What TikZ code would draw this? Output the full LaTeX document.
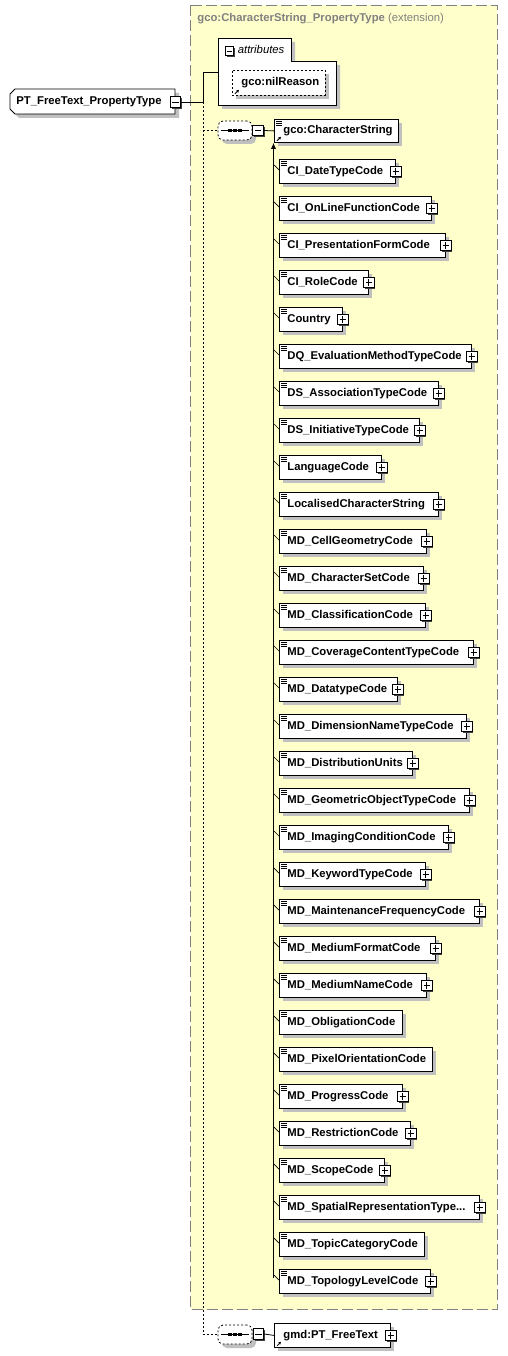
\documentclass[tikz,border=0pt]{standalone}
\usepackage{fontspec}
\setmainfont{Liberation Sans}
\usetikzlibrary{shadows,calc,arrows.meta}
\definecolor{ybg}{RGB}{255,255,204}
\definecolor{shd}{RGB}{192,192,192}
\definecolor{frm}{RGB}{128,128,128}
\newcommand\threedots{.{}.{}.}
\begin{document}
\begin{tikzpicture}[x=1pt,y=-1pt,line width=0.8pt,
  every node/.style={font=\fontsize{11.3}{13}\selectfont\bfseries},
  sh/.style={drop shadow={shadow xshift=4pt,shadow yshift=-4pt,fill=shd,opacity=1}},
  ebox/.style={draw,fill=white,sh,minimum height=24pt,inner xsep=0pt,inner ysep=0pt,
    anchor=north west,align=left,text height=8pt,text depth=2.5pt},
  pm/.style={draw,fill=white,minimum size=10.5pt,inner sep=0pt,line width=0.9pt,
    drop shadow={shadow xshift=1.3pt,shadow yshift=-1.3pt,fill=black!75,opacity=1}},
  minusb/.style={pm,path picture={\draw[line width=0.8pt]([xshift=2pt]path picture bounding box.west)--([xshift=-2pt]path picture bounding box.east);}},
  plusb/.style={pm,path picture={\draw[line width=0.8pt]([xshift=2pt]path picture bounding box.west)--([xshift=-2pt]path picture bounding box.east);
     \draw[line width=0.8pt]([yshift=-2pt]path picture bounding box.north)--([yshift=2pt]path picture bounding box.south);}},
  seqb/.style={draw,dash pattern=on 2pt off 2pt,fill=white,rounded corners=5pt,minimum width=34pt,minimum height=19pt,inner sep=0pt,sh},
  conn/.style={line width=0.8pt},
  dconn/.style={line width=0.8pt,dash pattern=on 2pt off 2pt},
]
\useasboundingbox (0,0) rectangle (508,1356);
\fill[white] (0,0) rectangle (508,1356);

% outer extension frame
\draw[frm,fill=ybg,line width=1pt,dash pattern=on 11pt off 4pt] (190.5,5.5) rectangle (497,1309.5);
\node[anchor=west,text=frm,inner sep=0pt] (title) at (197,19) {gco:CharacterString\_PropertyType \mdseries(extension)};

% root element
\fill[shd] (19,93) -- (179,93) -- (179,118) -- (19,118) -- (14,113) -- (14,98) -- cycle;
\draw[fill=white] (15,89) -- (175,89) -- (175,114) -- (15,114) -- (10,109) -- (10,94) -- cycle;
\node[anchor=west,inner sep=0pt] (root) at (16,101.5) {PT\_FreeText\_PropertyType};
\node[minusb] (rm) at (175.5,102) {};

% attributes group
\fill[shd] (222,42) -- (295,42) -- (295,65) -- (340,65) -- (340,109) -- (222,109) -- cycle;
\draw[fill=white] (218,38) -- (291,38) -- (291,61) -- (336,61) -- (336,105) -- (218,105) -- cycle;
\node[pm,minimum size=8.5pt,path picture={\draw[line width=0.8pt]([xshift=1.5pt]path picture bounding box.west)--([xshift=-1.5pt]path picture bounding box.east);}] (am) at (229.5,51) {};
\node[anchor=west,inner sep=0pt,font=\fontsize{11.3}{13}\selectfont\itshape] (attr) at (237.5,49.5) {attributes};
\coordinate (af) at (218,72);
\node[draw,dash pattern=on 2pt off 2pt,fill=white,sh,anchor=north west,minimum width=93pt,minimum height=25pt,inner sep=0pt,text height=8pt,text depth=2.5pt,align=left,text width=93pt] (nil) at (232,70) {\hspace*{9pt}gco:nilReason};
\draw[-{Stealth[length=3pt,width=3pt]},line width=0.8pt] ($(nil.south west)+(3,-2)$) -- ++(4,-4);

% root connectors
\coordinate (j) at (203,102);
\draw[conn] (rm.east) -- (j);
\draw[conn] (j) |- (af);

% first sequence
\node[seqb] (s1) at (235,130.5) {};
\draw[conn] ($(s1.west)+(3,0)$) -- ($(s1.east)+(-3,0)$);
\foreach \dx in {-5,0,5}{\fill ($(s1.center)+(\dx-1.7,-1.7)$) rectangle ++(3.4,3.4);}
\node[minusb] (s1m) at (258,130.5) {};
\draw[dconn] (j) |- (s1.west);

% gco:CharacterString
\node[ebox,minimum width=124pt,text width=124pt,minimum height=23pt] (cs) at (274,119) {\hspace*{9pt}gco:CharacterString};
\draw[conn] (s1m.east) -- (cs.west);
\foreach \k in {2,4,6}{\draw[line width=0.7pt] ($(cs.north west)+(2,\k)$) -- ++(6,0);}
\draw[-{Stealth[length=3pt,width=3pt]},line width=0.8pt] ($(cs.south west)+(3,-2)$) -- ++(4,-4);

% choices
\foreach \n/\r/\p [count=\i from 0] in {
 CI\_DateTypeCode/395/1,
 CI\_OnLineFunctionCode/431/1,
 CI\_PresentationFormCode/445/1,
 CI\_RoleCode/368/1,
 Country/342/1,
 DQ\_EvaluationMethodTypeCode/471/1,
 DS\_AssociationTypeCode/438/1,
 DS\_InitiativeTypeCode/419/1,
 LanguageCode/381/1,
 LocalisedCharacterString/438/1,
 MD\_CellGeometryCode/426/1,
 MD\_CharacterSetCode/423/1,
 MD\_ClassificationCode/425/1,
 MD\_CoverageContentTypeCode/473/1,
 MD\_DatatypeCode/397/1,
 MD\_DimensionNameTypeCode/466/1,
 MD\_DistributionUnits/412/1,
 MD\_GeometricObjectTypeCode/469/1,
 MD\_ImagingConditionCode/448/1,
 MD\_KeywordTypeCode/425/1,
 MD\_MaintenanceFrequencyCode/479/1,
 MD\_MediumFormatCode/435/1,
 MD\_MediumNameCode/426/1,
 MD\_ObligationCode/402/0,
 MD\_PixelOrientationCode/432/0,
 MD\_ProgressCode/402/1,
 MD\_RestrictionCode/410/1,
 MD\_ScopeCode/384/1,
 MD\_SpatialRepresentationType\threedots/479/1,
 MD\_TopicCategoryCode/424/0,
 MD\_TopologyLevelCode/430/1}{
  \pgfmathsetmacro\t{159+37*\i}
  \pgfmathsetmacro\w{\r-279}
  \node[ebox,minimum width=\w pt,text width=\w pt] (c\i) at (279,\t) {\hspace*{8pt}\n};
  \foreach \k in {2,4,6}{\draw[line width=0.7pt] ($(c\i.north west)+(2,\k)$) -- ++(6,0);}
  \draw[line width=0.7pt] ($(c\i.north west)+(-5,6)$) -- ($(c\i.north west)+(0,11)$);
  \ifnum\p=1 \node[plusb] at (c\i.east) {};\fi
}
\coordinate (vbot) at (273.5,1278);
\draw[conn,-{Latex[length=6pt,width=5pt]}] (vbot) -- (vbot |- cs.south);

% second sequence
\node[seqb] (s2) at (235,1334.5) {};
\draw[conn] ($(s2.west)+(3,0)$) -- ($(s2.east)+(-3,0)$);
\foreach \dx in {-5,0,5}{\fill ($(s2.center)+(\dx-1.7,-1.7)$) rectangle ++(3.4,3.4);}
\node[minusb] (s2m) at (258.5,1334) {};
\draw[dconn] (j) |- (s2.west);
\node[ebox,minimum width=116pt,text width=116pt] (gmd) at (274,1323) {\hspace*{9pt}gmd:PT\_FreeText};
\draw[conn] (s2m.east) -- (gmd.west);
\draw[-{Stealth[length=3pt,width=3pt]},line width=0.8pt] ($(gmd.south west)+(3,-2)$) -- ++(4,-4);
\node[plusb] at (gmd.east) {};
\end{tikzpicture}
\end{document}
